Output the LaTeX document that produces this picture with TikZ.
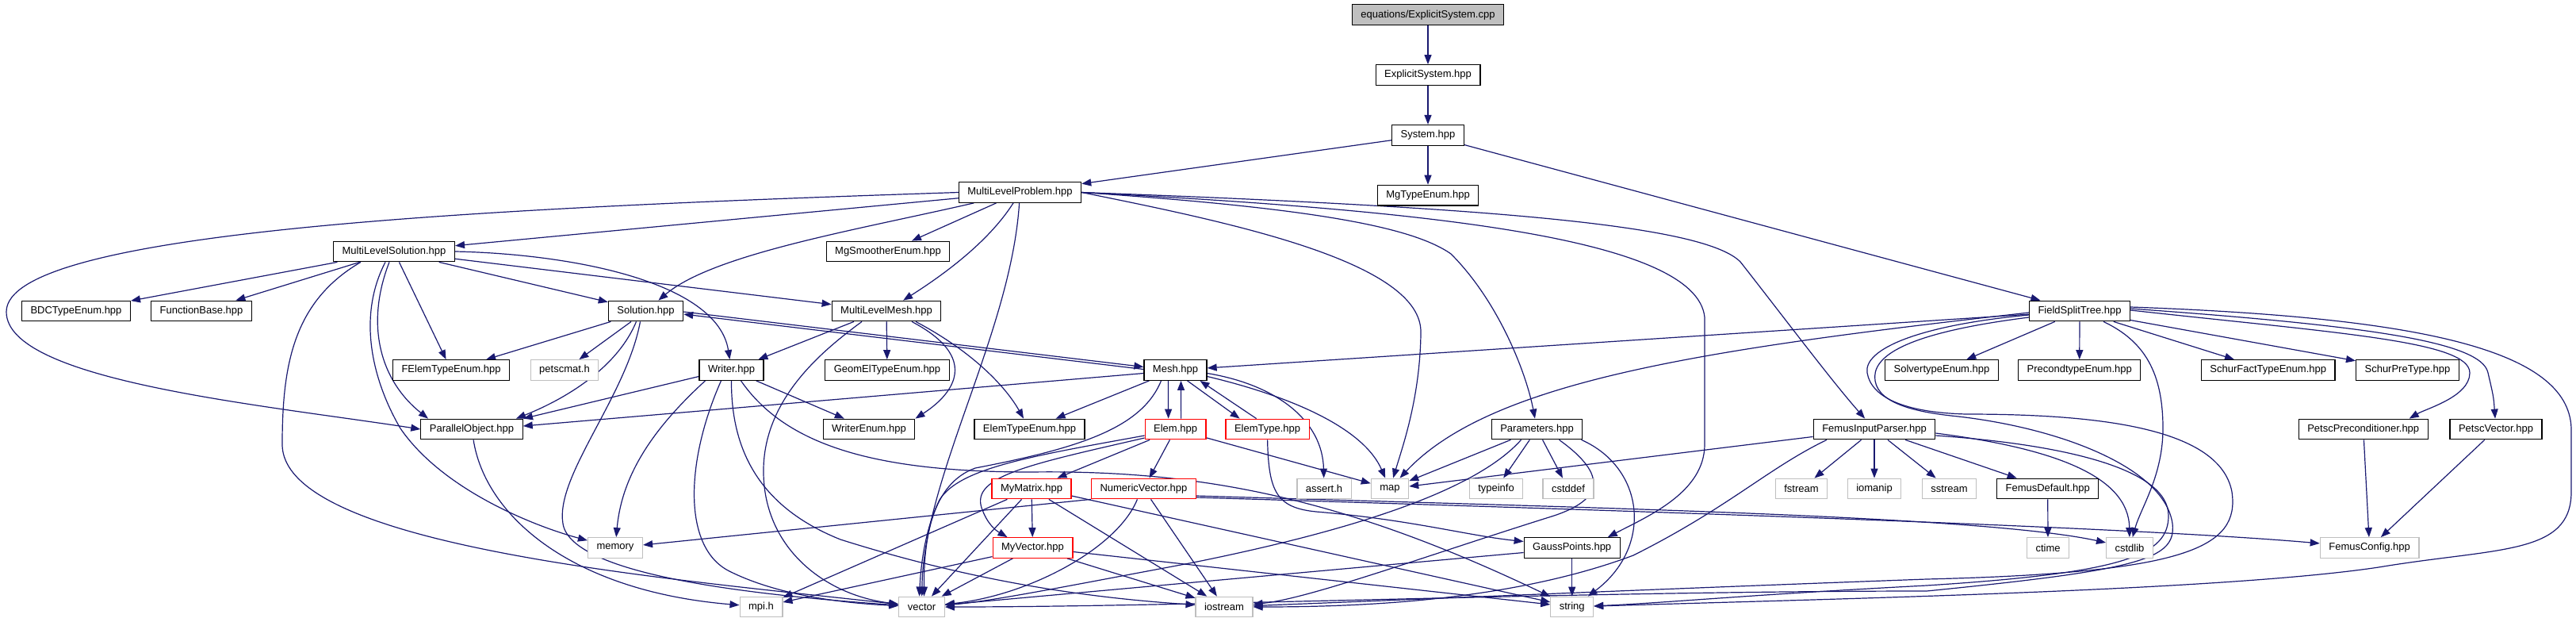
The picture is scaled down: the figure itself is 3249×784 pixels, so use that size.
\documentclass[tikz,border=0pt]{standalone}
\usepackage{fontspec}
\setmainfont{Liberation Sans}
\usepackage{tikz}
\usetikzlibrary{arrows.meta,positioning,backgrounds}

\definecolor{edgeblue}{HTML}{191970}
\definecolor{extgray}{HTML}{BFBFBF}

\begin{document}
\begin{tikzpicture}[
    x=1pt, y=-1pt,
    >={Triangle[length=12pt, width=9pt]},
    hdr/.style={draw=black, fill=white, rectangle, line width=1.2pt, minimum height=25.6pt, inner xsep=11pt, inner ysep=2pt, font=\fontsize{13}{15}\selectfont},
    ext/.style={hdr, draw=extgray},
    trunc/.style={hdr, draw=red},
    root/.style={hdr, fill=extgray},
    dep/.style={->, draw=edgeblue, line width=1.2pt}
]

    \useasboundingbox (0,0) rectangle (3249,784);

    \node[root] (cpp) at (1801,18.7) {equations/ExplicitSystem.cpp};
    \node[hdr, below=49pt of cpp] (esh) {ExplicitSystem.hpp};
    \node[hdr, below=49pt of esh] (sys) {System.hpp};
    \node[hdr, below=49pt of sys] (mgt) {MgTypeEnum.hpp};
    \node[hdr] (mlp) at (1286.5,242.5) {MultiLevelProblem.hpp};

    \node[hdr] (mls) at (497,317) {MultiLevelSolution.hpp};
    \node[hdr] (mgs) at (1120,317) {MgSmootherEnum.hpp};

    \node[hdr] (bdc) at (96,392) {BDCTypeEnum.hpp};
    \node[hdr] (fnb) at (254,392) {FunctionBase.hpp};
    \node[hdr] (sol) at (814.5,392) {Solution.hpp};
    \node[hdr] (mlm) at (1118,392) {MultiLevelMesh.hpp};
    \node[hdr] (fst) at (2623,392) {FieldSplitTree.hpp};

    \node[hdr] (fet) at (569,466.5) {FElemTypeEnum.hpp};
    \node[ext] (pmt) at (712,466.5) {petscmat.h};
    \node[hdr] (wri) at (922.5,466.5) {Writer.hpp};
    \node[hdr] (get) at (1119,466.5) {GeomElTypeEnum.hpp};
    \node[hdr] (msh) at (1482.5,466.5) {Mesh.hpp};
    \node[hdr] (slv) at (2449,466.5) {SolvertypeEnum.hpp};
    \node[hdr] (pce) at (2622.7,466.5) {PrecondtypeEnum.hpp};
    \node[hdr] (sft) at (2860.7,466.5) {SchurFactTypeEnum.hpp};
    \node[hdr] (spt) at (3036.4,466.5) {SchurPreType.hpp};

    \node[hdr] (par) at (595,541) {ParallelObject.hpp};
    \node[hdr] (wen) at (1096,541) {WriterEnum.hpp};
    \node[hdr] (ete) at (1298.5,541) {ElemTypeEnum.hpp};
    \node[trunc] (elm) at (1482.6,541) {Elem.hpp};
    \node[trunc] (ety) at (1598.6,541) {ElemType.hpp};
    \node[hdr] (prm) at (1938.5,541) {Parameters.hpp};
    \node[hdr] (fip) at (2364,541) {FemusInputParser.hpp};
    \node[hdr] (ppc) at (2980.7,541) {PetscPreconditioner.hpp};
    \node[hdr] (pvc) at (3148,541) {PetscVector.hpp};

    \node[trunc] (mmx) at (1301,616) {MyMatrix.hpp};
    \node[trunc] (nvc) at (1442.4,616) {NumericVector.hpp};
    \node[ext] (ast) at (1670,616) {assert.h};
    \node[ext] (map) at (1753,616) {map};
    \node[ext] (tyi) at (1887,616) {typeinfo};
    \node[ext] (cdf) at (1978,616) {cstddef};
    \node[ext] (fsm) at (2272,616) {fstream};
    \node[ext] (iom) at (2364,616) {iomanip};
    \node[ext] (ssm) at (2458.5,616) {sstream};
    \node[hdr] (fdf) at (2582.7,616) {FemusDefault.hpp};

    \node[ext] (mem) at (776,690.5) {memory};
    \node[trunc] (mvc) at (1302.5,690.5) {MyVector.hpp};
    \node[hdr] (gps) at (1982.7,690.5) {GaussPoints.hpp};
    \node[ext] (ctm) at (2583,690.5) {ctime};
    \node[ext] (csl) at (2686,690.5) {cstdlib};
    \node[ext] (fcf) at (2988.6,690.5) {FemusConfig.hpp};

    \node[ext] (mpi) at (960,765) {mpi.h};
    \node[ext] (vec) at (1162.5,765) {vector};
    \node[ext] (ios) at (1544,765) {iostream};
    \node[ext] (str) at (1982.7,765) {string};

    \begin{scope}[on background layer]
    \draw[dep] (cpp) -- (esh);
    \draw[dep] (esh) -- (sys);
    \draw[dep] (sys) -- (mgt);
    \draw[dep] (sys) -- (mlp);
    \draw[dep] (sys) -- (fst);

    \draw[dep] (mlp) -- (mls);
    \draw[dep] (mlp) -- (mgs);
    \draw[dep] (mlp.west) .. controls (620,262) and (8,290) .. (8,393) .. controls (8,480) and (330,510) .. (par.west);
    \draw[dep] (mlp) .. controls (1080,290) and (900,320) .. (sol);
    \draw[dep] (mlp) .. controls (1250,300) and (1200,340) .. (mlm);
    \draw[dep] (mlp) .. controls (1275,420) and (1165,600) .. (vec);
    \draw[dep] (mlp.east) .. controls (1550,280) and (1795,330) .. (1792,420) .. controls (1791,500) and (1770,560) .. (map);
    \draw[dep] (mlp.east) .. controls (1650,262) and (1780,285) .. (1830,320) .. controls (1890,380) and (1925,470) .. (prm);
    \draw[dep] (mlp.east) .. controls (1800,265) and (2140,300) .. (2150,400) -- (2150,560) .. controls (2150,620) and (2080,650) .. ([xshift=45pt]gps.north);
    \draw[dep] (mlp.east) .. controls (1900,262) and (2150,285) .. (2195,330) .. controls (2250,400) and (2310,480) .. (fip);

    \draw[dep] (mls) -- (bdc);
    \draw[dep] (mls) -- (fnb);
    \draw[dep] (mls) -- (fet);
    \draw[dep] (mls) -- (sol);
    \draw[dep] (mls) -- (mlm);
    \draw[dep] (mls.east) .. controls (720,320) and (905,355) .. (wri);
    \draw[dep] ([xshift=-42pt]mls.south) .. controls (370,380) and (356,460) .. (356,560) .. controls (356,690) and (850,730) .. (vec);
    \draw[dep] ([xshift=-11pt]mls.south) .. controls (450,400) and (470,480) .. (505,540) .. controls (560,620) and (680,665) .. (mem);
    \draw[dep] ([xshift=-6pt]mls.south) .. controls (460,410) and (480,480) .. ([xshift=-55pt]par.north);

    \draw[dep] (sol) -- (fet);
    \draw[dep] (sol) -- (pmt);
    \draw[dep] ([xshift=-12pt]sol.south) .. controls (780,460) and (720,500) .. ([xshift=56pt]par.north);
    \draw[dep] ([xshift=-7pt]sol.south) .. controls (790,500) and (700,600) .. (710,660) .. controls (720,725) and (950,750) .. (vec);
    \draw[dep] ([yshift=-1pt]sol.east) -- ([yshift=4pt]msh.west);

    \draw[dep] ([yshift=-8pt]wri.west) -- ([xshift=65pt]par.north);
    \draw[dep] (wri) -- (wen);
    \draw[dep] ([xshift=-33pt]wri.south) .. controls (835,530) and (785,590) .. (mem);
    \draw[dep] ([xshift=-13pt]wri.south) .. controls (865,580) and (860,690) .. (920,720) .. controls (980,750) and (1060,760) .. (vec);
    \draw[dep] (wri.south) .. controls (922,570) and (960,640) .. (1060,680) .. controls (1250,740) and (1400,755) .. (ios);
    \draw[dep] ([xshift=12pt]wri.south) .. controls (990,560) and (1100,595) .. (1300,595) .. controls (1520,592) and (1700,630) .. (str);

    \draw[dep] ([xshift=-41pt]mlm.south) -- (wri);
    \draw[dep] (mlm) -- (get);
    \draw[dep] ([xshift=-31pt]mlm.south) .. controls (1040,440) and (965,500) .. (963,590) .. controls (961,690) and (1040,750) .. (vec);
    \draw[dep] ([xshift=32pt]mlm.south) .. controls (1235,450) and (1205,495) .. (wen.north east);
    \draw[dep] ([xshift=37pt]mlm.south) .. controls (1230,445) and (1270,490) .. (ete);

    \draw[dep] ([yshift=1pt]msh.west) -- ([yshift=-4pt]sol.east);
    \draw[dep] ([yshift=-4pt]msh.west) -- ([yshift=4pt]par.east);
    \draw[dep] (msh) -- (ete);
    \draw[dep] ([xshift=-9pt]msh.south) -- ([xshift=-9pt]elm.north);
    \draw[dep] ([xshift=15pt]msh.south) -- ([xshift=-35pt]ety.north);
    \draw[dep] ([xshift=-18pt]msh.south) .. controls (1440,540) and (1360,565) .. (1230,590) .. controls (1175,610) and (1165,680) .. ([xshift=3pt]vec.north);
    \draw[dep] ([yshift=-4pt]msh.east) .. controls (1610,485) and (1668,530) .. (ast);
    \draw[dep] ([yshift=-8pt]msh.east) .. controls (1630,500) and (1720,540) .. (map);

    \draw[dep] ([xshift=7pt]elm.north) -- ([xshift=7pt]msh.south);
    \draw[dep] (elm) -- (mmx);
    \draw[dep] (elm) -- (nvc);
    \draw[dep] ([yshift=-11pt]elm.west) .. controls (1300,585) and (1225,600) .. (1238,640) .. controls (1245,660) and (1255,668) .. ([xshift=-32pt]mvc.north);
    \draw[dep] ([yshift=-8pt]elm.west) .. controls (1300,575) and (1210,590) .. (1185,630) .. controls (1170,660) and (1162,700) .. ([xshift=-3pt]vec.north);
    \draw[dep] (elm) -- (map);

    \draw[dep] ([xshift=-14pt]ety.north) -- ([xshift=31pt]msh.south);
    \draw[dep] (ety.south) .. controls (1600,620) and (1610,640) .. (1660,645) .. controls (1780,655) and (1850,675) .. ([yshift=8pt]gps.west);

    \draw[dep] (mmx) -- (mvc);
    \draw[dep] (mmx) -- (vec);
    \draw[dep] (mmx) -- (mpi);
    \draw[dep] (mmx) -- (ios);
    \draw[dep] ([yshift=-9pt]mmx.east) -- (str);

    \draw[dep] (mvc) -- (mpi);
    \draw[dep] (mvc) -- (vec);
    \draw[dep] (mvc) -- (ios);
    \draw[dep] ([yshift=-5pt]mvc.east) -- (str);

    \draw[dep] (nvc.south west) -- (mem);
    \draw[dep] ([xshift=-8pt]nvc.south) .. controls (1410,690) and (1300,750) .. (vec);
    \draw[dep] (nvc) -- (ios);
    \draw[dep] ([yshift=-9pt]nvc.east) .. controls (2000,640) and (2500,650) .. (csl);
    \draw[dep] ([yshift=-11pt]nvc.east) .. controls (2100,645) and (2700,665) .. (fcf);

    \draw[dep] (par) .. controls (612,650) and (720,745) .. (mpi);

    \draw[dep] (prm) -- (map);
    \draw[dep] (prm) -- (tyi);
    \draw[dep] (prm) -- (cdf);
    \draw[dep] ([xshift=56pt]prm.south) .. controls (2075,590) and (2085,690) .. ([xshift=20pt]str.north);
    \draw[dep] ([xshift=-20pt]prm.south) .. controls (1860,620) and (1700,670) .. (1500,710) .. controls (1350,738) and (1250,758) .. (vec);
    \draw[dep] ([xshift=28pt]prm.south) .. controls (2030,600) and (2020,630) .. (1960,650) .. controls (1800,700) and (1650,755) .. (ios);

    \draw[dep] (gps) -- (str);
    \draw[dep] ([yshift=-6pt]gps.west) -- (vec);

    \draw[dep] (fip) -- (map);
    \draw[dep] (fip) -- (fsm);
    \draw[dep] (fip) -- (iom);
    \draw[dep] (fip) -- (ssm);
    \draw[dep] (fip) -- (fdf);
    \draw[dep] ([yshift=-5pt]fip.east) .. controls (2590,565) and (2685,600) .. (csl);
    \draw[dep] ([yshift=-8pt]fip.east) .. controls (2600,560) and (2735,590) .. (2735,650) .. controls (2735,700) and (2680,722) .. (2430,738) .. controls (2200,750) and (2100,760) .. (str);
    \draw[dep] ([xshift=-60pt]fip.south) .. controls (2230,590) and (2180,640) .. (2060,700) .. controls (1900,760) and (1700,765) .. (ios);

    \draw[dep] (fst) -- (msh);
    \draw[dep] (fst) -- (slv);
    \draw[dep] (fst) -- (pce);
    \draw[dep] (fst) -- (sft);
    \draw[dep] (fst) -- (spt);
    \draw[dep] ([yshift=-2pt]fst.west) .. controls (2150,440) and (1880,480) .. (map);
    \draw[dep] ([xshift=30pt]fst.south) .. controls (2705,430) and (2728,470) .. (2728,540) .. controls (2728,600) and (2700,640) .. (csl);
    \draw[dep] ([yshift=1pt]fst.east) .. controls (2950,420) and (3115,430) .. (3115,470) .. controls (3115,500) and (3060,515) .. ([xshift=58pt]ppc.north);
    \draw[dep] ([yshift=3pt]fst.east) .. controls (2980,410) and (3130,430) .. (3138,470) .. controls (3145,500) .. (pvc);
    \draw[dep] ([yshift=5pt]fst.east) .. controls (3050,400) and (3240,440) .. (3243,540) -- (3243,620) .. controls (3243,700) and (3150,690) .. (3000,715) .. controls (2800,745) and (2300,755) .. (str);
    \draw[dep] ([yshift=-5pt]fst.west) .. controls (2420,410) and (2350,440) .. (2355,470) .. controls (2360,500) and (2400,520) .. (2480,522) .. controls (2650,522) and (2800,540) .. (2815,620) .. controls (2825,690) and (2760,722) .. (2430,730) .. controls (2100,742) and (1800,755) .. (ios);
    \draw[dep] ([yshift=-8pt]fst.west) .. controls (2400,420) and (2360,450) .. (2365,480) .. controls (2370,510) and (2420,520) .. (2470,525) .. controls (2600,540) and (2730,590) .. (2740,660) .. controls (2745,705) and (2700,718) .. (2430,745) .. controls (2000,745) and (1500,765) .. (vec);

    \draw[dep] (fdf) -- (ctm);
    \draw[dep] (ppc) -- (fcf);
    \draw[dep] (pvc) -- (fcf);
    \end{scope}

\end{tikzpicture}
\end{document}
